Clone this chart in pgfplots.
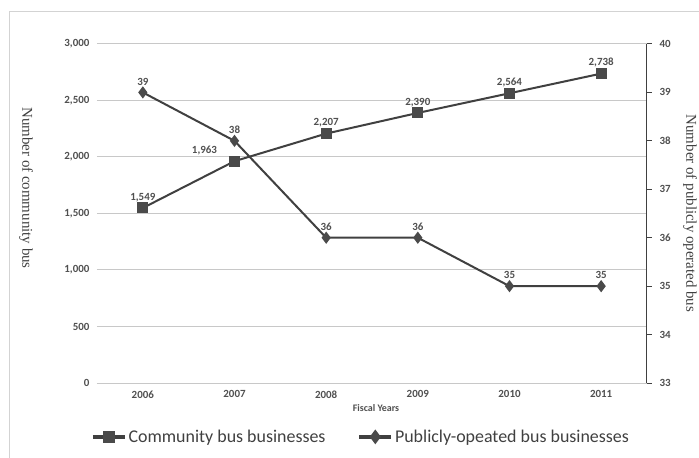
\documentclass[border=0pt]{standalone}
\usepackage{pgfplots}
\pgfplotsset{compat=1.18}
\usepackage{pgfplotstable}
\usepackage{fontspec}
\setmainfont{Carlito}
\newfontfamily\serif{Liberation Serif}
\definecolor{linec}{HTML}{404040}
\definecolor{markc}{HTML}{4A4A4A}
\definecolor{gridc}{HTML}{C8C8C8}
\definecolor{textc}{HTML}{505050}

% Fiscal year index, value, horizontal label shift
\pgfplotstableread{
x y dx
0 1549 0
1 1963 -30
2 2207 0
3 2390 0
4 2564 0
5 2738 0
}\community
\pgfplotstableread{
x y
0 39
1 38
2 36
3 36
4 35
5 35
}\publicbus

\begin{document}
\begin{tikzpicture}[x=1bp,y=1bp]
\useasboundingbox (-97bp,-75bp) rectangle (602bp,383bp);
\draw[gridc!80, line width=1bp] (-87bp,-80bp) -- (-87bp,371bp) -- (610bp,371bp);

\pgfplotsset{
  base/.style={
    scale only axis, width=550bp, height=339bp,
    xmin=-0.5, xmax=5.5,
    xtick={0,...,5},
    tick label style={font=\fontsize{11}{13}\selectfont\bfseries, text=textc},
    /pgf/number format/assume math mode=true,
  }
}

\begin{axis}[base,
  ymin=0, ymax=3000,
  ytick={0,500,...,3000},
  /pgf/number format/1000 sep={,},
  xticklabels={2006,2007,2008,2009,2010,2011},
  axis x line*=bottom, axis y line*=left,
  x axis line style={draw=gridc, line width=1bp},
  y axis line style={draw=none},
  major tick length=0pt,
  ymajorgrids, grid style={gridc, line width=1bp},
  yticklabel style={xshift=-4bp},
  xticklabel style={yshift=-4bp},
  xlabel={Fiscal Years},
  xlabel style={font=\fontsize{10}{11}\selectfont\bfseries, text=textc, yshift=0bp, xshift=4bp},
  ylabel={\serif Number of community bus},
  ylabel style={at={(axis description cs:-0.129,0.575)}, anchor=center,
    rotate=180, font=\fontsize{15}{16}\selectfont, text=linec},
]
\addplot[linec, line width=2bp, mark=square*, mark size=4.5bp,
  mark options={fill=markc, draw=markc},
  nodes near coords, point meta=explicit,
  visualization depends on={\thisrow{dx} \as \dx},
  every node near coord/.append style={font=\fontsize{11}{13}\selectfont\bfseries,
    text=textc, anchor=south, yshift=2bp, xshift=\dx bp}]
  table[x=x, y=y, meta=y] {\community};
\end{axis}

\begin{axis}[base,
  ymin=33, ymax=40,
  ytick={33,...,40},
  axis x line=none,
  axis y line*=right,
  y axis line style={draw=linec, line width=1bp},
  ytick style={draw=linec, line width=1bp},
  tick align=outside, major tick length=5bp,
  yticklabel style={xshift=4bp},
  ylabel={\serif Number of publicly operated bus},
  ylabel style={at={(axis description cs:1.078,0.5)}, anchor=center,
    rotate=180, font=\fontsize{15}{16}\selectfont, text=linec},
  legend columns=2,
  legend style={draw=none, fill=none, at={(0.48,-0.159)}, anchor=center,
    font=\fontsize{18}{21}\selectfont, text=linec,
    /tikz/every even column/.append style={column sep=30bp}},
  legend image code/.code={
    \draw[#1, line width=3.5bp, mark repeat=2, mark phase=2]
      plot coordinates {(0bp,0bp) (16bp,0bp) (32bp,0bp)};},
]
\addlegendimage{linec, mark=square*, mark size=4.5bp, mark options={fill=markc, draw=markc}}
\addlegendentry{Community bus businesses}
\addplot[linec, line width=2bp, mark=diamond*, mark size=4.5bp,
  mark options={fill=markc, draw=markc},
  nodes near coords, point meta=explicit,
  every node near coord/.append style={font=\fontsize{11}{13}\selectfont\bfseries,
    text=textc, anchor=south, yshift=3bp}]
  table[x=x, y=y, meta=y] {\publicbus};
\addlegendentry{Publicly-opeated bus businesses}
\end{axis}
\end{tikzpicture}
\end{document}
